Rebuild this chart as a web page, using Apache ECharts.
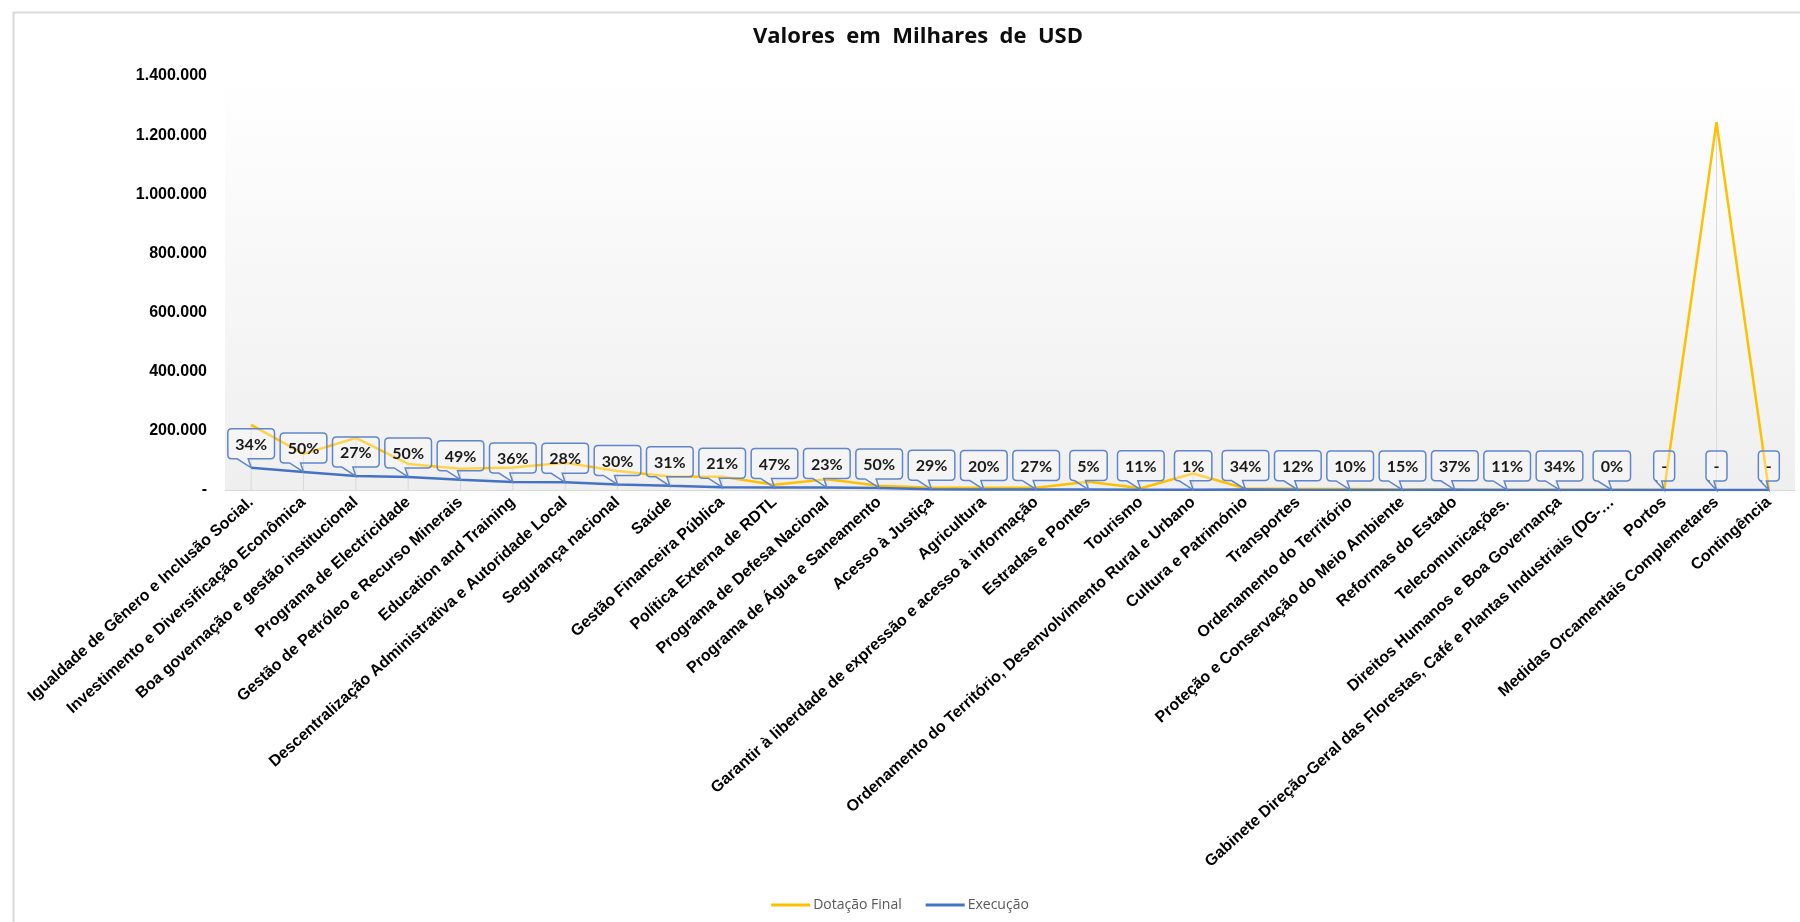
<!DOCTYPE html>
<html>
<head>
<meta charset="utf-8">
<script src="https://cdn.jsdelivr.net/npm/echarts@6/dist/echarts.min.js"></script>
<style>
html,body{margin:0;padding:0;background:#fff;}
#c{width:1800px;height:922px;}
</style>
</head>
<body>
<div id="c"></div>
<script>
const categories = [
  'Igualdade de Gênero e Inclusão Social.',
  'Investimento e Diversificação Econômica',
  'Boa governação e gestão institucional',
  'Programa de Electricidade',
  'Gestão de Petróleo e Recurso Minerais',
  'Education and Training',
  'Descentralização Administrativa e Autoridade Local',
  'Segurança nacional',
  'Saúde',
  'Gestão Financeira Pública',
  'Política Externa de RDTL',
  'Programa de Defesa Nacional',
  'Programa de Água e Saneamento',
  'Acesso à Justiça',
  'Agricultura',
  'Garantir à liberdade de expressão e acesso à informação',
  'Estradas e Pontes',
  'Tourismo',
  'Ordenamento do Território, Desenvolvimento Rural e Urbano',
  'Cultura e Património',
  'Transportes',
  'Ordenamento do Território',
  'Proteção e Conservação do Meio Ambiente',
  'Reformas do Estado',
  'Telecomunicações.',
  'Direitos Humanos e Boa Governança',
  'Gabinete Direção-Geral das Florestas, Café e Plantas Industriais (DG-…',
  'Portos',
  'Medidas Orcamentais Complemetares',
  'Contingência'
];
const dotacaoFinal = [220000,122000,176000,88000,72000,76000,92000,64000,46000,45000,18000,36000,14000,8000,8000,8000,28000,6000,56000,5000,4000,3500,2000,1500,1200,1000,800,0,1244000,0];
const execucao = [75000,61000,47000,44000,35000,27000,26000,19000,14000,9500,8500,8300,7000,2300,1600,2100,1400,660,560,1700,480,350,300,555,130,340,0,0,0,0];
const pctLabels = ['34%','50%','27%','50%','49%','36%','28%','30%','31%','21%','47%','23%','50%','29%','20%','27%','5%','11%','1%','34%','12%','10%','15%','37%','11%','34%','0%','-','-','-'];
const yTicks = {min:0, max:1400000, interval:200000};

const chart = echarts.init(document.getElementById('c'), null, {renderer:'canvas'});
const measureCanvas = document.createElement('canvas').getContext('2d');
const calloutFont = 'bold 16px Lato';
measureCanvas.font = calloutFont;

function fmt(v){
  if (v === 0) return '-';
  return String(v).replace(/\B(?=(\d{3})+(?!\d))/g, '.');
}

function renderCallout(params, api){
  const pt = api.coord([api.value(0), api.value(1)]);
  const text = pctLabels[params.dataIndex];
  const tw = measureCanvas.measureText(text).width;
  const w = tw + 15, h = 30, r = 4;
  const x = pt[0], y = pt[1];
  const L = x - w/2, R = x + w/2, B = y - 9, T = B - h;
  const bx1 = Math.max(L + 2, x - 14);
  const bx2 = Math.max(L + 8, x - 3);
  const d = 'M'+(L+r)+' '+T+' H'+(R-r)+' Q'+R+' '+T+' '+R+' '+(T+r)+' V'+(B-r)+
    ' Q'+R+' '+B+' '+(R-r)+' '+B+' H'+bx2+' L'+x+' '+y+' L'+bx1+' '+B+' H'+(L+r)+
    ' Q'+L+' '+B+' '+L+' '+(B-r)+' V'+(T+r)+' Q'+L+' '+T+' '+(L+r)+' '+T+' Z';
  return {
    type:'group',
    children:[
      {type:'path', shape:{pathData:d}, style:{fill:'rgba(255,255,255,0.3)', stroke:'#5f86cc', lineWidth:1.5}},
      {type:'text', style:{text:text, x:x, y:T+h/2+1, align:'center', verticalAlign:'middle', fontSize:16, fontWeight:'bold', fontFamily:'Lato', fill:'#1a1a1a'}}
    ]
  };
}

const lineIcon = 'path://M0,0 L40,0 L40,3 L0,3 Z';

const option = {
  animation:false,
  backgroundColor:'#ffffff',
  title:{
    text:'Valores  em  Milhares  de  USD',
    left:913, top:21, textAlign:'center',
    textStyle:{fontFamily:'Open Sans', fontWeight:'bold', fontSize:22, color:'#0d0d0d'}
  },
  graphic:[
    {type:'rect', left:11, top:10, shape:{x:0,y:0,width:1800,height:1000}, style:{fill:'none', stroke:'#d9d9d9', lineWidth:2}, silent:true, z:-10}
  ],
  legend:{
    data:[{name:'Dotação Final', icon:lineIcon},{name:'Execução', icon:lineIcon}],
    left:'center', top:893,
    itemWidth:39, itemHeight:3, itemGap:24,
    textStyle:{fontFamily:'Open Sans', fontSize:14, color:'#595959', padding:[0,0,0,-2]}
  },
  grid:{
    left:225, right:5, top:76, bottom:432, containLabel:false,
    show:true, borderWidth:0,
    backgroundColor:new echarts.graphic.LinearGradient(0,0,0,1,[{offset:0,color:'#ffffff'},{offset:1,color:'#efefef'}])
  },
  xAxis:{
    type:'category', data:categories, boundaryGap:true,
    axisLine:{show:true, lineStyle:{color:'#d9d9d9', width:1}},
    axisTick:{show:false},
    axisLabel:{interval:0, rotate:42, margin:10, fontFamily:'Liberation Sans', fontWeight:'bold', fontSize:16, color:'#000'},
    splitLine:{show:false}
  },
  yAxis:{
    type:'value', min:yTicks.min, max:yTicks.max, interval:yTicks.interval,
    axisLine:{show:false}, axisTick:{show:false}, splitLine:{show:false},
    axisLabel:{formatter:fmt, margin:18, fontFamily:'Liberation Sans', fontWeight:'bold', fontSize:16, color:'#000'}
  },
  series:[
    {name:'drop', type:'bar', data:dotacaoFinal, barWidth:1, itemStyle:{color:'#d9d9d9'}, silent:true, z:1},
    {name:'Dotação Final', type:'line', data:dotacaoFinal, symbol:'none', lineStyle:{color:'#FFC000', width:2.5}, itemStyle:{color:'#FFC000'}, z:3},
    {name:'Execução', type:'line', data:execucao, symbol:'none', lineStyle:{color:'#4472C4', width:2.5}, itemStyle:{color:'#4472C4'}, z:4},
    {name:'callouts', type:'custom', data:execucao.map((v,i)=>[i,v]), encode:{x:0,y:1}, renderItem:renderCallout, clip:false, silent:true, z:10}
  ]
};
chart.setOption(option);
</script>
</body>
</html>
